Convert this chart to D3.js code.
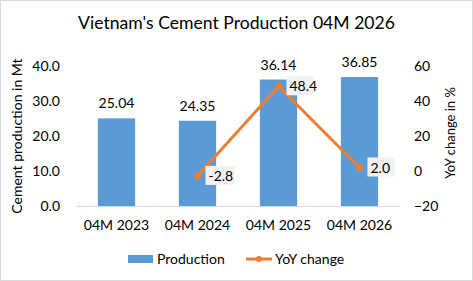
<!DOCTYPE html>
<html>
<head>
<meta charset="utf-8">
<script src="https://cdn.jsdelivr.net/npm/d3@7"></script>
<style>
  body { margin: 0; background: #fff; }
  text { font-family: Lato, "Open Sans", sans-serif; fill: #000; }
</style>
</head>
<body>
<div id="chart-area"></div>
<script>
// data
var categories = ["04M 2023", "04M 2024", "04M 2025", "04M 2026"];
var production = [25.04, 24.35, 36.14, 36.85];
var yoyChange = [null, -2.8, 48.4, 2.0];
var leftTicks = [0, 10, 20, 30, 40];
var rightTicks = [-20, 0, 20, 40, 60];

var W = 473, H = 281;
var margin = { left: 76, right: 73, top: 66, bottom: 75 };
var width = W - margin.left - margin.right,
    height = H - margin.top - margin.bottom;

var svg = d3.select("#chart-area")
    .append("svg")
        .attr("width", W)
        .attr("height", H);

svg.append("rect")
    .attr("x", 0.5).attr("y", 0.5)
    .attr("width", W - 1).attr("height", H - 1)
    .attr("fill", "#fff")
    .attr("stroke", "#d9d9d9");

var g = svg.append("g")
    .attr("transform", "translate(" + margin.left + "," + margin.top + ")");

// Scales
var x = d3.scaleBand()
    .domain(categories)
    .range([0, width])
    .paddingInner(0.54)
    .paddingOuter(0.27);
var y = d3.scaleLinear().domain([0, 40]).range([height, 0]);
var y2 = d3.scaleLinear().domain([-20, 60]).range([height, 0]);

// Title
svg.append("text")
    .attr("x", W / 2)
    .attr("y", 29)
    .attr("text-anchor", "middle")
    .attr("font-size", "17.6px")
    .text("Vietnam's Cement Production 04M 2026");

// Axis titles
svg.append("text")
    .attr("transform", "translate(22," + (margin.top + height / 2) + ") rotate(-90)")
    .attr("text-anchor", "middle")
    .attr("font-size", "14px")
    .text("Cement production  in Mt");
svg.append("text")
    .attr("transform", "translate(455," + (margin.top + height / 2 - 3) + ") rotate(-90)")
    .attr("text-anchor", "middle")
    .attr("font-size", "13px")
    .text("YoY change in %");

// Left axis
var yAxis = g.append("g")
    .call(d3.axisLeft(y).tickValues(leftTicks).tickFormat(d3.format(".1f")).tickSize(0).tickPadding(16));
yAxis.select(".domain").remove();
yAxis.selectAll("text").attr("font-size", "14px").attr("font-family", "Lato, 'Open Sans', sans-serif");

// Right axis
var yAxis2 = g.append("g")
    .attr("transform", "translate(" + width + ",0)")
    .call(d3.axisRight(y2).tickValues(rightTicks).tickSize(0).tickPadding(14));
yAxis2.select(".domain").remove();
yAxis2.selectAll("text").attr("font-size", "14px").attr("font-family", "Lato, 'Open Sans', sans-serif");

// X axis
var xAxis = g.append("g")
    .attr("transform", "translate(0," + height + ")")
    .call(d3.axisBottom(x).tickSize(0).tickPadding(14));
xAxis.select(".domain").attr("stroke", "#d9d9d9");
xAxis.selectAll("text").attr("font-size", "14px").attr("font-family", "Lato, 'Open Sans', sans-serif");

// Bars
g.selectAll("rect.bar")
    .data(production)
    .enter().append("rect")
        .attr("class", "bar")
        .attr("x", function(d, i) { return x(categories[i]); })
        .attr("y", function(d) { return y(d); })
        .attr("width", x.bandwidth())
        .attr("height", function(d) { return height - y(d); })
        .attr("fill", "#5b9bd5");

g.selectAll("text.barlabel")
    .data(production)
    .enter().append("text")
        .attr("class", "barlabel")
        .attr("x", function(d, i) { return x(categories[i]) + x.bandwidth() / 2; })
        .attr("y", function(d) { return y(d) - 10; })
        .attr("text-anchor", "middle")
        .attr("font-size", "14px")
        .text(function(d) { return d.toFixed(2); });

// Line
var lineData = yoyChange.map(function(v, i) { return { cat: categories[i], v: v }; })
    .filter(function(d) { return d.v !== null; });
var cx = function(d) { return x(d.cat) + x.bandwidth() / 2; };

g.append("path")
    .datum(lineData)
    .attr("fill", "none")
    .attr("stroke", "#ed7d31")
    .attr("stroke-width", 3)
    .attr("stroke-linejoin", "round")
    .attr("d", d3.line().x(cx).y(function(d) { return y2(d.v); }));

g.selectAll("circle.pt")
    .data(lineData)
    .enter().append("circle")
        .attr("class", "pt")
        .attr("cx", cx)
        .attr("cy", function(d) { return y2(d.v); })
        .attr("r", 3.5)
        .attr("fill", "#ed7d31");

var lbl = g.selectAll("g.linelabel")
    .data(lineData)
    .enter().append("g")
        .attr("class", "linelabel")
        .attr("transform", function(d) { return "translate(" + (cx(d) + 8) + "," + y2(d.v) + ")"; });
lbl.append("rect")
    .attr("x", 0).attr("y", -10)
    .attr("width", function(d) { return d.v < 0 ? 29 : 27; })
    .attr("height", 19)
    .attr("fill", "#f2f2f2");
lbl.append("text")
    .attr("x", 3).attr("y", 5)
    .attr("font-size", "14px")
    .text(function(d) { return d.v.toFixed(1); });

// Legend
var legend = svg.append("g").attr("transform", "translate(0,259)");
legend.append("rect")
    .attr("x", 128).attr("y", -4)
    .attr("width", 25).attr("height", 8)
    .attr("fill", "#5b9bd5");
legend.append("text")
    .attr("x", 157).attr("y", 5)
    .attr("font-size", "14px")
    .text("Production");
legend.append("line")
    .attr("x1", 246).attr("x2", 272)
    .attr("y1", 0).attr("y2", 0)
    .attr("stroke", "#ed7d31").attr("stroke-width", 3);
legend.append("circle")
    .attr("cx", 259).attr("cy", 0).attr("r", 3)
    .attr("fill", "#ed7d31");
legend.append("text")
    .attr("x", 275).attr("y", 5)
    .attr("font-size", "14px")
    .text("YoY change");
</script>
</body>
</html>
